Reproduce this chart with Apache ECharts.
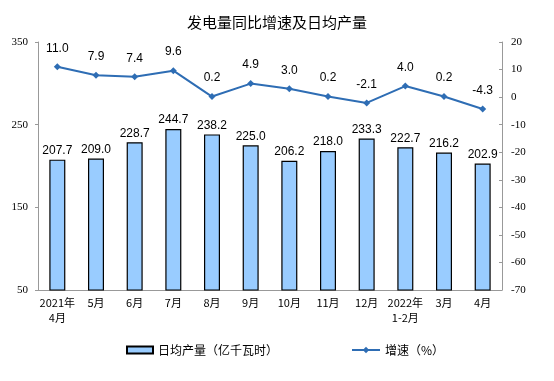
<!DOCTYPE html>
<html><head><meta charset="utf-8">
<script src="https://cdn.jsdelivr.net/npm/echarts@6/dist/echarts.min.js"></script>
<style>html,body{margin:0;padding:0;background:#fff}#c{width:554px;height:381px}</style>
</head><body><div id="c"></div>
<script>
const categories = ['2021年\n4月','5月','6月','7月','8月','9月','10月','11月','12月','2022年\n1-2月','3月','4月'];
const dailyOutput = [207.7, 209.0, 228.7, 244.7, 238.2, 225.0, 206.2, 218.0, 233.3, 222.7, 216.2, 202.9];
const growth = [11.0, 7.9, 7.4, 9.6, 0.2, 4.9, 3.0, 0.2, -2.1, 4.0, 0.2, -4.3];
const barName = '日均产量（亿千瓦时）';
const lineName = '增速（%）';

const chart = echarts.init(document.getElementById('c'), null, {renderer:'canvas'});
const axisNumFont = {fontFamily:'Liberation Serif', fontSize:11, color:'#000'};
chart.setOption({
  animation:false,
  title:{text:'发电量同比增速及日均产量', left:'center', top:10,
    textStyle:{fontFamily:'Noto Sans CJK SC', fontSize:15, fontWeight:'normal', color:'#000'}},
  grid:{left:38, right:52, top:42, bottom:91},
  legend:[
    {data:[{name:barName, icon:'rect'}], left:121, top:339, itemWidth:26, itemHeight:7, itemGap:4,
     textStyle:{fontFamily:'Noto Sans CJK SC', fontSize:12, color:'#000'}},
    {data:[lineName], left:346, top:339, itemWidth:28, itemHeight:8,
     textStyle:{fontFamily:'Noto Sans CJK SC', fontSize:12, color:'#000'}}
  ],
  xAxis:{type:'category', data:categories,
    axisLine:{onZero:false, lineStyle:{color:'#999'}},
    axisTick:{inside:true, length:3, lineStyle:{color:'#999'}},
    axisLabel:{fontFamily:'Noto Sans CJK SC', fontSize:11, color:'#000', margin:5, lineHeight:15, interval:0}},
  yAxis:[
    {type:'value', min:50, max:350, interval:100, position:'left',
     axisLine:{show:true, lineStyle:{color:'#999'}},
     axisTick:{show:true, length:3, lineStyle:{color:'#999'}},
     splitLine:{show:false},
     axisLabel:Object.assign({margin:10}, axisNumFont)},
    {type:'value', min:-70, max:20, interval:10, position:'right',
     axisLine:{show:true, lineStyle:{color:'#999'}},
     axisTick:{show:true, inside:true, length:3, lineStyle:{color:'#999'}},
     splitLine:{show:false},
     axisLabel:Object.assign({margin:9}, axisNumFont)}
  ],
  series:[
    {name:barName, type:'bar', yAxisIndex:0, data:dailyOutput, barWidth:16,
     itemStyle:{color:'#99CCFF', borderColor:'#000', borderWidth:1.2},
     label:{show:true, position:'top', distance:3, formatter:p=>p.value.toFixed(1),
       fontFamily:'Liberation Sans', fontSize:12, color:'#000'}},
    {name:lineName, type:'line', yAxisIndex:1, data:growth,
     symbol:'diamond', symbolSize:7,
     lineStyle:{color:'#2E6DB4', width:2}, itemStyle:{color:'#2E6DB4'},
     label:{show:true, position:'top', distance:9, formatter:p=>p.value.toFixed(1),
       fontFamily:'Liberation Sans', fontSize:12, color:'#000'}}
  ]
});
</script></body></html>
